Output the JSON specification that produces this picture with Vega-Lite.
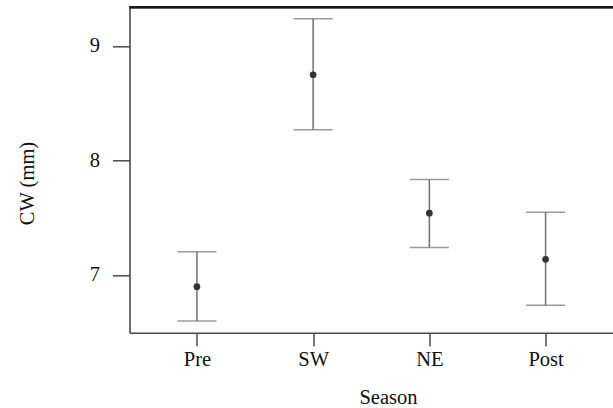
{
  "$schema": "https://vega.github.io/schema/vega-lite/v6.json",
  "autosize": "none",
  "width": 483.5,
  "height": 325.4,
  "padding": {"left": 129.5, "top": 7.3, "right": 0, "bottom": 75.3},
  "background": "white",
  "config": {
    "view": {"stroke": "transparent", "strokeWidth": 0},
    "font": "Liberation Serif",
    "axis": {"domain": true, "domainColor": "#4a4a4a", "domainWidth": 1.6, "grid": false, "tickColor": "#4a4a4a", "tickWidth": 1.5, "labelFont": "Liberation Serif", "titleFont": "Liberation Serif", "labelFontSize": 20.5, "titleFontSize": 20.5, "labelColor": "#111111", "titleColor": "#111111", "titleFontWeight": "normal"}
  },
  "data": {"values": [
    {"Season": "Pre", "mean": 6.898, "lower": 6.598, "upper": 7.203},
    {"Season": "SW", "mean": 8.749, "lower": 8.269, "upper": 9.238},
    {"Season": "NE", "mean": 7.540, "lower": 7.240, "upper": 7.834},
    {"Season": "Post", "mean": 7.137, "lower": 6.735, "upper": 7.548}
  ]},
  "encoding": {
    "x": {"field": "Season", "type": "nominal", "sort": ["Pre", "SW", "NE", "Post"],
      "scale": {"type": "point", "padding": 0.58},
      "axis": {"labelAngle": 0, "tickSize": 13, "labelPadding": 4, "title": "Season", "titleX": 258.5, "titleY": 71, "titleBaseline": "alphabetic", "titleAlign": "center"}}
  },
  "layer": [
    {"mark": {"type": "rule", "color": "#707070", "strokeWidth": 1.5},
     "encoding": {
       "y": {"field": "lower", "type": "quantitative", "title": "CW (mm)", "scale": {"domain": [6.496, 9.338], "nice": false, "zero": false},
         "axis": {"orient": "left", "values": [7, 8, 9], "format": "d", "tickSize": 17, "labelPadding": 13, "titleX": -102, "titleY": 175.7, "titleBaseline": "middle", "titleAngle": -90, "titleAlign": "center"}},
       "y2": {"field": "upper"}
     }},
    {"mark": {"type": "tick", "color": "#707070", "thickness": 1.5, "size": 39},
     "encoding": {"y": {"field": "upper", "type": "quantitative", "title": "CW (mm)",
       "axis": {"orient": "left", "values": [7, 8, 9], "format": "d", "tickSize": 17, "labelPadding": 13, "titleX": -102, "titleY": 175.7, "titleBaseline": "middle", "titleAngle": -90, "titleAlign": "center"}}}},
    {"mark": {"type": "tick", "color": "#707070", "thickness": 1.5, "size": 39},
     "encoding": {"y": {"field": "lower", "type": "quantitative", "title": "CW (mm)",
       "axis": {"orient": "left", "values": [7, 8, 9], "format": "d", "tickSize": 17, "labelPadding": 13, "titleX": -102, "titleY": 175.7, "titleBaseline": "middle", "titleAngle": -90, "titleAlign": "center"}}}},
    {"mark": {"type": "point", "filled": true, "shape": "circle", "color": "#333333", "size": 45, "opacity": 1},
     "encoding": {"y": {"field": "mean", "type": "quantitative", "title": "CW (mm)",
       "axis": {"orient": "left", "values": [7, 8, 9], "format": "d", "tickSize": 17, "labelPadding": 13, "titleX": -102, "titleY": 175.7, "titleBaseline": "middle", "titleAngle": -90, "titleAlign": "center"}}}},
    {"mark": {"type": "rule", "color": "#1a1a1a", "strokeWidth": 2},
     "encoding": {"x": {"value": 0}, "x2": {"value": 483.5}, "y": {"datum": 9.338, "type": "quantitative", "title": "CW (mm)",
       "axis": {"orient": "left", "values": [7, 8, 9], "format": "d", "tickSize": 17, "labelPadding": 13, "titleX": -102, "titleY": 175.7, "titleBaseline": "middle", "titleAngle": -90, "titleAlign": "center"}}}}
  ]
}
